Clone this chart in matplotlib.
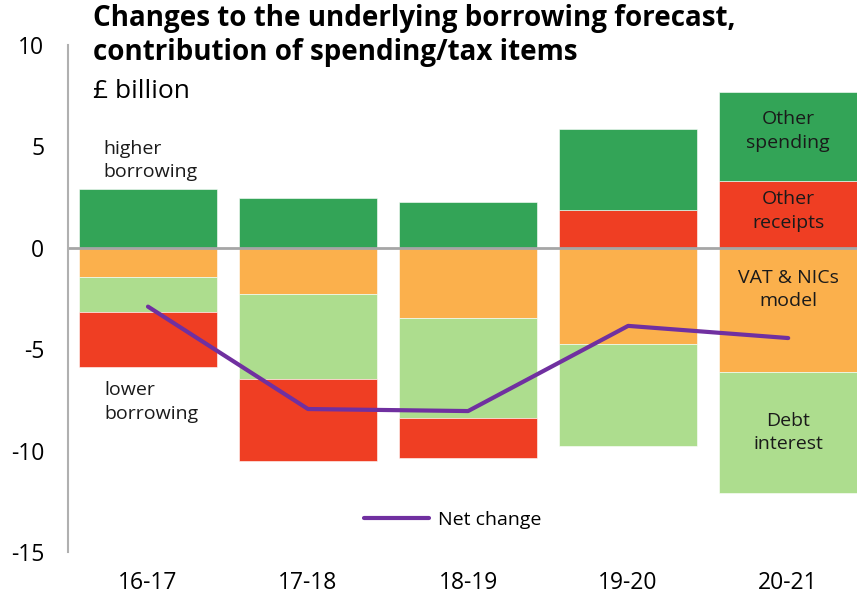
import matplotlib.pyplot as plt
import numpy as np

plt.rcParams['font.family'] = ['Open Sans', 'DejaVu Sans']
plt.rcParams['axes.unicode_minus'] = False

years = ['16-17', '17-18', '18-19', '19-20', '20-21']
other_spending = [2.9, 2.46, 2.27, 3.99, 4.38]
other_receipts = [-2.71, -4.05, -1.97, 1.87, 3.3]
vat_nics = [-1.43, -2.3, -3.45, -4.73, -6.1]
debt_interest = [-1.72, -4.15, -4.92, -5.02, -6.0]
net_change = [-2.9, -7.95, -8.05, -3.85, -4.45]

colors = {'spend': '#33a457', 'rec': '#ef3e23', 'vat': '#fbb04c', 'debt': '#addd8e'}

fig = plt.figure(figsize=(8.57, 5.96), dpi=100)
ax = fig.add_axes([0.0793, 0.0738, 0.9207, 0.8507])

x = np.arange(len(years))
w = 0.86
pos = np.zeros(len(years))
neg = np.zeros(len(years))
# negatives stack down in this order, positives stack up receipts then spending
order = [('vat', vat_nics), ('debt', debt_interest), ('rec', other_receipts), ('spend', other_spending)]
pos_order = [('rec', other_receipts), ('spend', other_spending)]
for key, vals in order:
    v = np.array(vals)
    m = v < 0
    ax.bar(x[m], v[m], w, bottom=neg[m], color=colors[key], edgecolor='white', linewidth=0.4)
    neg[m] += v[m]
for key, vals in pos_order:
    v = np.array(vals)
    m = v > 0
    ax.bar(x[m], v[m], w, bottom=pos[m], color=colors[key], edgecolor='white', linewidth=0.4)
    pos[m] += v[m]

ax.plot(x, net_change, color='#7030a0', lw=3, label='Net change', solid_capstyle='round')
ax.axhline(0, color='#a6a6a6', lw=2)

ax.set_xlim(-0.5, 4.43)
ax.set_ylim(-15, 10)
ax.set_yticks([-15, -10, -5, 0, 5, 10])
ax.set_xticks(x)
ax.set_xticklabels(years)
ax.tick_params(axis='y', length=0, pad=17, labelsize=16.5)
ax.tick_params(axis='x', length=0, pad=14, labelsize=16.5)
for s in ['top', 'right', 'bottom']:
    ax.spines[s].set_visible(False)
ax.spines['left'].set_color('#b0b0b0')
ax.spines['left'].set_linewidth(1.5)

lbl = dict(ha='center', va='center', fontsize=14, color='#1a1a1a', linespacing=1.4)
ax.text(4, 5.75, 'Other\nspending', **lbl)
ax.text(4, 1.8, 'Other\nreceipts', **lbl)
ax.text(4, -2.05, 'VAT & NICs\nmodel', **lbl)
ax.text(4, -9.1, 'Debt\ninterest', **lbl)
ax.text(-0.28, 4.3, 'higher\nborrowing', ha='left', va='center', fontsize=14, color='#1a1a1a', linespacing=1.4)
ax.text(-0.27, -7.6, 'lower\nborrowing', ha='left', va='center', fontsize=14, color='#1a1a1a', linespacing=1.4)

fig.text(0.108, 0.993, 'Changes to the underlying borrowing forecast,\ncontribution of spending/tax items',
         ha='left', va='top', fontsize=20, fontweight='bold', linespacing=1.2)
fig.text(0.108, 0.846, '£ billion', ha='left', va='center', fontsize=19)

ax.legend(loc='center', bbox_to_anchor=(0.488, 0.063), frameon=False, fontsize=14,
          handlelength=3.3, handletextpad=0.5)

fig.savefig('out.png', dpi=100)
